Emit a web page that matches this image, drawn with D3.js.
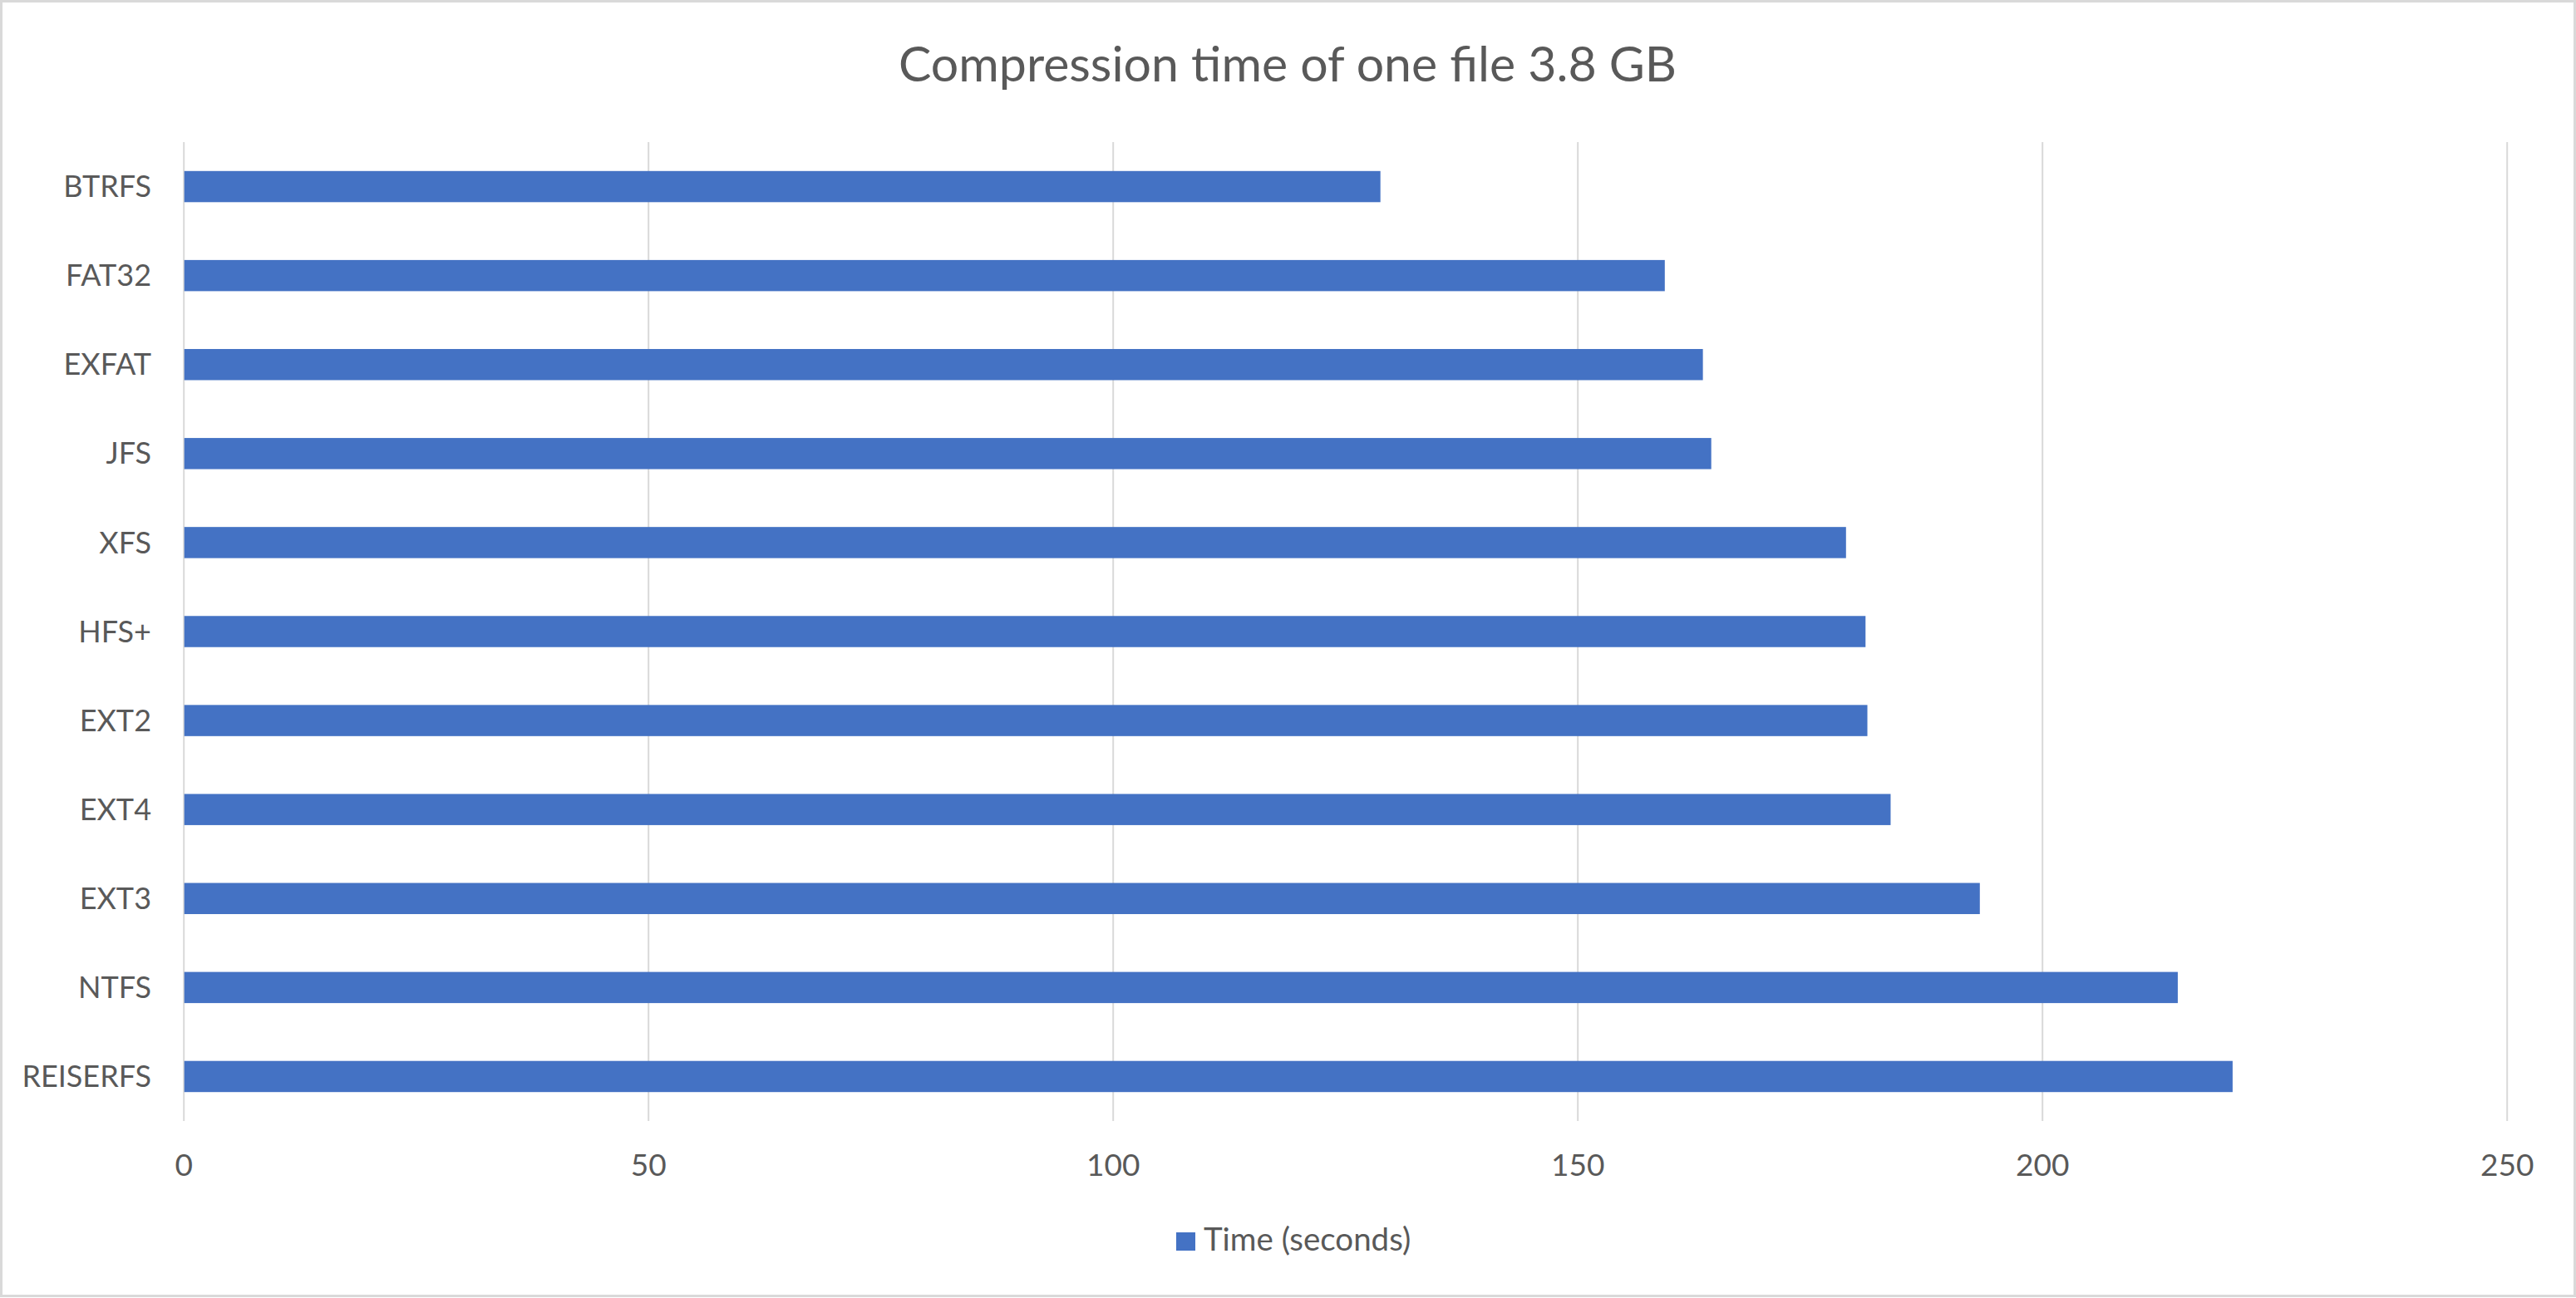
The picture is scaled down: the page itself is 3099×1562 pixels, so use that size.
<!DOCTYPE html>
<html>
<head>
<meta charset="utf-8">
<script src="https://cdn.jsdelivr.net/npm/d3@7"></script>
<style>
  html, body { margin: 0; padding: 0; background: #fff; }
  svg { display: block; }
</style>
</head>
<body>
<svg id="chart" width="3099" height="1562"></svg>
<script>
const categories = ["BTRFS", "FAT32", "EXFAT", "JFS", "XFS", "HFS+", "EXT2", "EXT4", "EXT3", "NTFS", "REISERFS"];
const timeSeconds = [128.8, 159.4, 163.5, 164.4, 178.9, 181.0, 181.2, 183.7, 193.3, 214.6, 220.5];
const xTicks = [0, 50, 100, 150, 200, 250];
const titleText = "Compression time of one file 3.8 GB";
const seriesName = "Time (seconds)";

const W = 3099, H = 1562;
const FONT = "Lato, 'Open Sans', 'Noto Sans', sans-serif";
const TEXT = "#595959", GRID = "#d9d9d9", BAR = "#4472C4";
const plot = { left: 220.7, right: 3015.7, top: 171, bottom: 1349 };

const svg = d3.select("#chart");
svg.append("rect").attr("x", 0).attr("y", 0).attr("width", W).attr("height", H).attr("fill", "#fff");
svg.append("rect").attr("x", 1.5).attr("y", 1.5).attr("width", W - 3).attr("height", H - 4)
  .attr("fill", "none").attr("stroke", GRID).attr("stroke-width", 3);

const x = d3.scaleLinear().domain([0, 250]).range([plot.left, plot.right]);
const y = d3.scaleBand().domain(categories).range([plot.top, plot.bottom])
  .paddingInner(0.65).paddingOuter(0.325);

// x axis with gridlines
const xAxis = svg.append("g")
  .attr("transform", `translate(0,${plot.bottom})`)
  .call(d3.axisBottom(x).tickValues(xTicks).tickSize(-(plot.bottom - plot.top)).tickPadding(40));
xAxis.select(".domain").remove();
xAxis.selectAll(".tick line").attr("stroke", GRID).attr("stroke-width", 2);
xAxis.selectAll(".tick text")
  .attr("fill", TEXT).attr("font-family", FONT).attr("font-size", 37)
  .attr("y", 66).attr("dy", 0);

// y axis labels
const yAxis = svg.append("g")
  .attr("transform", `translate(${plot.left},0)`)
  .call(d3.axisLeft(y).tickSize(0).tickPadding(38.7));
yAxis.select(".domain").remove();
yAxis.selectAll(".tick text")
  .attr("fill", TEXT).attr("font-family", FONT).attr("font-size", 36)
  .attr("dy", "0.35em");

// bars
svg.append("g").selectAll("rect")
  .data(categories.map((c, i) => ({ c, v: timeSeconds[i] })))
  .join("rect")
  .attr("x", x(0) + 1)
  .attr("y", d => y(d.c))
  .attr("width", d => x(d.v) - x(0) - 1)
  .attr("height", y.bandwidth())
  .attr("fill", BAR);

// title
svg.append("text")
  .attr("x", 1549).attr("y", 98)
  .attr("text-anchor", "middle")
  .attr("fill", TEXT).attr("font-family", FONT).attr("font-size", 59)
  .text(titleText);

// legend
const lg = svg.append("g");
lg.append("rect").attr("x", 1415).attr("y", 1483).attr("width", 23).attr("height", 22).attr("fill", BAR);
lg.append("text").attr("x", 1448).attr("y", 1505)
  .attr("fill", TEXT).attr("font-family", FONT).attr("font-size", 38.5)
  .text(seriesName);
</script>
</body>
</html>
